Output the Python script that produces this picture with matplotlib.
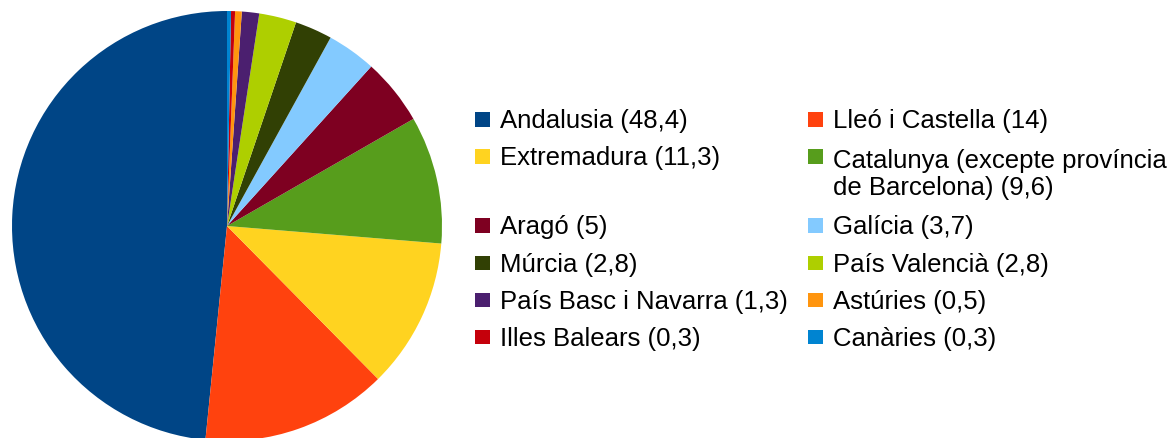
import matplotlib
matplotlib.use("Agg")
import matplotlib.pyplot as plt
from matplotlib.patches import Rectangle

regions = ["Andalusia", "Lleó i Castella", "Extremadura",
           "Catalunya (excepte província\nde Barcelona)", "Aragó", "Galícia",
           "Múrcia", "País Valencià", "País Basc i Navarra", "Astúries",
           "Illes Balears", "Canàries"]
values = [48.4, 14, 11.3, 9.6, 5, 3.7, 2.8, 2.8, 1.3, 0.5, 0.3, 0.3]
value_labels = ["48,4", "14", "11,3", "9,6", "5", "3,7", "2,8", "2,8", "1,3", "0,5", "0,3", "0,3"]
colors = ["#004586", "#ff420e", "#ffd320", "#579d1c", "#7e0021", "#83caff",
          "#314004", "#aecf00", "#4b1f6f", "#ff950e", "#c5000b", "#0084d1"]

W, H = 1174, 439
fig = plt.figure(figsize=(W / 100, H / 100), dpi=100)
plt.rcParams['font.family'] = ['Liberation Sans', 'DejaVu Sans']

cx, cy, r = 227, 227, 215
ax = fig.add_axes([(cx - r) / W, (H - cy - r) / H, 2 * r / W, 2 * r / H])
ax.pie(values, colors=colors, startangle=90, counterclock=True,
       wedgeprops=dict(linewidth=0))
ax.set_xlim(-1, 1)
ax.set_ylim(-1, 1)
ax.set_aspect('equal')
ax.axis('off')

# Legend laid out row-wise in two columns
col_x = [475, 808]
text_dx = 25
first_baseline = 128
row_step = 37.2
line_step = 30
extra_step = 32
fs = 18.5
sq = 14.5
baseline = first_baseline
for i in range(0, len(regions), 2):
    nlines = 1
    for j in range(2):
        k = i + j
        if k >= len(regions):
            continue
        label = f"{regions[k]} ({value_labels[k]})"
        n = label.count("\n") + 1
        nlines = max(nlines, n)
        x = col_x[j]
        fig.patches.append(Rectangle((x / W, (H - baseline + 0.5) / H), sq / W, sq / H,
                                     transform=fig.transFigure, facecolor=colors[k],
                                     edgecolor='none'))
        fig.text((x + text_dx) / W, (H - baseline - (n - 1) * line_step) / H, label,
                 fontsize=fs, va='baseline', ha='left', color='black',
                 linespacing=1.17)
    baseline += row_step + (nlines - 1) * extra_step

fig.savefig("out.png", dpi=100)
